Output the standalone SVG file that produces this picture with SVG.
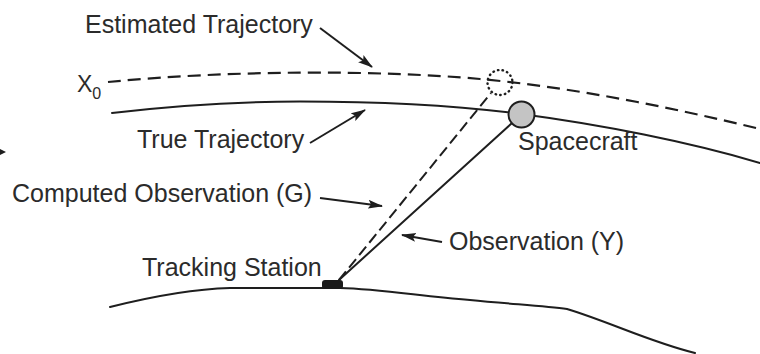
<svg xmlns="http://www.w3.org/2000/svg" width="760" height="354" viewBox="0 0 760 354">
<style>
.lbl{font-family:"Liberation Sans",Arial,Helvetica,sans-serif;font-size:25px;fill:#2b2b2b}
.line{fill:none;stroke:#1e1e1e;stroke-width:2;stroke-linecap:round}
.dash{fill:none;stroke:#1e1e1e;stroke-width:2.2;stroke-dasharray:13 7}
.dash2{fill:none;stroke:#1e1e1e;stroke-width:2;stroke-dasharray:11 5}
.arr{fill:none;stroke:#1e1e1e;stroke-width:2;marker-end:url(#ah)}
</style>
<defs>
<marker id="ah" viewBox="0 0 15 10" refX="14" refY="5" markerWidth="15" markerHeight="10" markerUnits="userSpaceOnUse" orient="auto">
<path d="M0,0.5 L15,5 L0,9.5 L3,5 Z" fill="#1e1e1e"/>
</marker>
</defs>
<rect width="760" height="354" fill="#fff"/>
<g id="ground">
<path class="line" d="M110,307 C150,297 190,289 230,288 L340,288 C380,289 420,296 470,300 C510,304 545,306 567,309 C610,322 650,342 695,353"/>
</g>
<g id="estimated-trajectory">
<path class="dash" d="M108,82 C230,70 380,70 480,79 C570,87 670,107 760,129"/>
</g>
<g id="true-trajectory">
<path class="line" d="M112,113 C170,106 240,101.5 300,101.5 C380,101.5 460,106 521,114 C600,124.4 690,142 760,163"/>
</g>
<g id="connectors">
<path class="dash2" d="M339,280 L491,93"/>
<path class="line" d="M339,280 L512,123"/>
<path class="arr" d="M320,28 L372,67"/>
<path class="arr" d="M310,143 L365,110"/>
<path class="arr" d="M320,198 L382,206"/>
<path class="arr" d="M442,242 L402,235"/>
</g>
<g id="estimated-position">
<circle cx="500" cy="82.5" r="12.5" fill="none" stroke="#1e1e1e" stroke-width="2.4" stroke-linecap="round" stroke-dasharray="0.5 4.2"/>
</g>
<g id="spacecraft">
<circle cx="521.5" cy="114.5" r="13" fill="#c4c4c4" stroke="#1e1e1e" stroke-width="2"/>
<text class="lbl" x="518" y="150">Spacecraft</text>
</g>
<g id="tracking-station">
<rect x="322" y="280" width="21" height="9" rx="3" fill="#1a1a1a"/>
<text class="lbl" x="142" y="276">Tracking Station</text>
</g>
<g id="x0">
<text class="lbl" x="77" y="92" style="font-size:23px">X<tspan dy="7" style="font-size:16px">0</tspan></text>
</g>
<g id="labels">
<text class="lbl" x="85" y="33">Estimated Trajectory</text>
<text class="lbl" x="137" y="148">True Trajectory</text>
<text class="lbl" x="12" y="202">Computed Observation (G)</text>
<text class="lbl" x="449" y="250">Observation (Y)</text>
</g>
<g id="stray-arrowhead">
<path d="M0,149 L6,152 L0,155 Z" fill="#1e1e1e"/>
</g>
</svg>
